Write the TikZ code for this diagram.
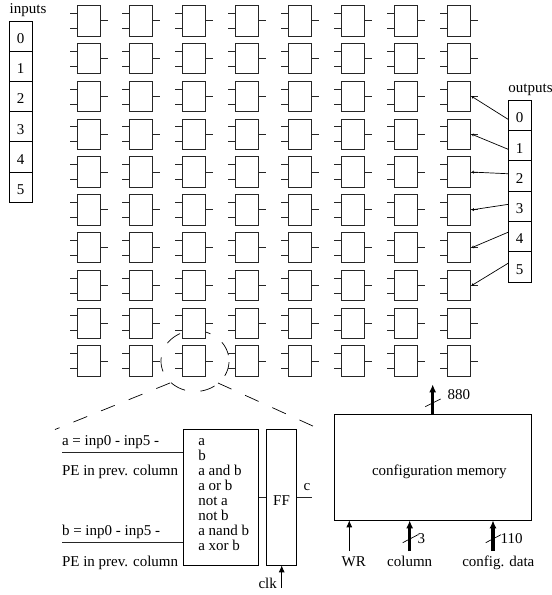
\documentclass[tikz,border=0pt]{standalone}
\usepackage{fontspec}
\setmainfont{Liberation Serif}
\usetikzlibrary{arrows.meta}
\tikzset{
  x=1pt,y=-1pt,
  every node/.style={font=\fontsize{15}{15}\selectfont,inner sep=0pt,outer sep=0pt},
  ln/.style={line width=0.9pt,black!85},
  pebox/.style={draw=black!85,fill=white,line width=0.9pt,minimum width=23pt,minimum height=30.3pt,anchor=north west},
  cell/.style={draw=black,line width=0.9pt,minimum width=22.7pt,minimum height=30.3pt,anchor=north west,text height=14.6pt,text depth=0pt},
  bigbox/.style={draw=black,line width=0.9pt,anchor=north west},
  lab/.style={anchor=base west},
  mid lab/.style={anchor=base},
  thin arrow/.style={line width=0.8pt,-{Latex[length=7pt,width=6pt]}},
  bus/.style={line width=3.4pt,-{Latex[length=8pt,width=7pt]}},
  tick/.style={line width=0.7pt},
  longdash/.style={line width=0.7pt,dash pattern=on 14.8pt off 15pt},
  ringdash/.style={line width=0.7pt},
  outlink/.style={line width=0.7pt,-{Straight Barb[length=1.5pt,width=2.5pt]}}
}
\begin{document}
\begin{tikzpicture}
\useasboundingbox (0,0) rectangle (552,595);
% zoom ring, partly hidden by the PE boxes
\foreach \a/\b in {2/29,55/81,107/135,160/187,216/244,270/297,322/349}{
  \draw[ringdash] plot[domain=\a:\b,samples=12] ({195+34*cos(\x)},{361+30.5*sin(\x)});
}
% PE grid
\foreach \c in {0,...,7}{
 \foreach \r in {0,...,9}{
  \node[pebox] (pe\c-\r) at ({77+52.9*\c},{5.7+37.8*\r}) {};
  \draw[ln] (pe\c-\r.west) ++(0,-7.5) -- ++(-7.5,0);
  \draw[ln] (pe\c-\r.west) ++(0,7.5) -- ++(-7.5,0);
  \draw[ln] (pe\c-\r.east) -- ++(7.5,0);
 }
}
% inputs
\node[mid lab] (inlab) at (28,13.5) {inputs};
\foreach \i in {0,...,5}{
  \node[cell] (in\i) at (9.3,{21+30.2*\i}) {\i};
}
% outputs
\node[mid lab] (outlab) at (530.5,92.3) {outputs};
\foreach \i in {0,...,5}{
  \node[cell] (out\i) at (508.3,{100.3+30.3*\i}) {\i};
}
% output links
\foreach \i/\r/\dy in {0/2/4,1/3/3.6,2/4/-2.3,3/5/-2,4/6/-4.5,5/7/-3.8}{
  \draw[outlink] ([yshift=-\dy pt]out\i.west) -- ([xshift=1.5pt]pe7-\r.east);
}
% zoom lines
\coordinate (zl0) at (170,383);
\coordinate (zl1) at (55,429.5);
\coordinate (zr0) at (218,383);
\coordinate (zr1) at (315,427);
\draw[longdash] (zl0) -- (zl1);
\draw[longdash] (zr0) -- (zr1);
% detail
\node[bigbox,minimum width=75.4pt,minimum height=136pt] (alu) at (183.3,429.3) {};
\node[bigbox,minimum width=30.4pt,minimum height=136pt] (ff) at (266.3,429.3) {};
\node[mid lab] (fft) at (281.5,505) {FF};
\coordinate (ain) at (62,452);
\coordinate (bin) at (62,542.7);
\draw[ln] (ain) -- (alu.west |- ain);
\draw[ln] (bin) -- (alu.west |- bin);
\node[lab] (t1) at (62,445) {a = inp0 - inp5 -};
\node[lab] (t2) at (62,475) {PE in prev. column};
\node[lab] (t3) at (62,535) {b = inp0 - inp5 -};
\node[lab] (t4) at (62,566) {PE in prev. column};
\foreach \t [count=\k from 0] in {a,b,a and b,a or b,not a,not b,a nand b,a xor b}{
  \node[lab] (fn\k) at (198.3,{445+15*\k}) {\t};
}
\coordinate (mid) at (262,497.3);
\draw[ln] (alu.east |- mid) -- (ff.west |- mid);
\coordinate (cend) at (312,497.3);
\draw[ln] (ff.east |- mid) -- (cend);
\node[mid lab] (clab) at (307,490.7) {c};
\coordinate (clkb) at (281.7,588);
\draw[thin arrow] (clkb) -- (clkb |- ff.south);
\node[mid lab] (clktxt) at (267.7,588) {clk};
% config memory
\node[bigbox,minimum width=196.7pt,minimum height=106.3pt] (cm) at (334.3,414) {};
\node[mid lab] (cmt) at (439.3,475) {configuration memory};
\coordinate (top) at (432.7,384.3);
\draw[bus] (top |- cm.north) -- (top);
\draw[tick] (425.3,406.7) -- (440.7,399);
\node[lab] (n880) at (447.7,399.3) {880};
\coordinate (wr) at (349.3,551);
\draw[thin arrow] (wr) -- (wr |- cm.south);
\node[mid lab] (wrt) at (353.7,566) {WR};
\coordinate (col) at (409.7,551);
\draw[bus] (col) -- (col |- cm.south);
\draw[tick] (402.7,542.7) -- (418,534.7);
\node[mid lab] (n3) at (421.3,543) {3};
\node[mid lab] (colt) at (409.7,566) {column};
\coordinate (cfg) at (493,551);
\draw[bus] (cfg) -- (cfg |- cm.south);
\draw[tick] (485.7,542.7) -- (501,534.7);
\node[mid lab] (n110) at (511.7,543) {110};
\node[mid lab] (cfgt) at (498.3,566) {config. data};
\end{tikzpicture}
\end{document}
